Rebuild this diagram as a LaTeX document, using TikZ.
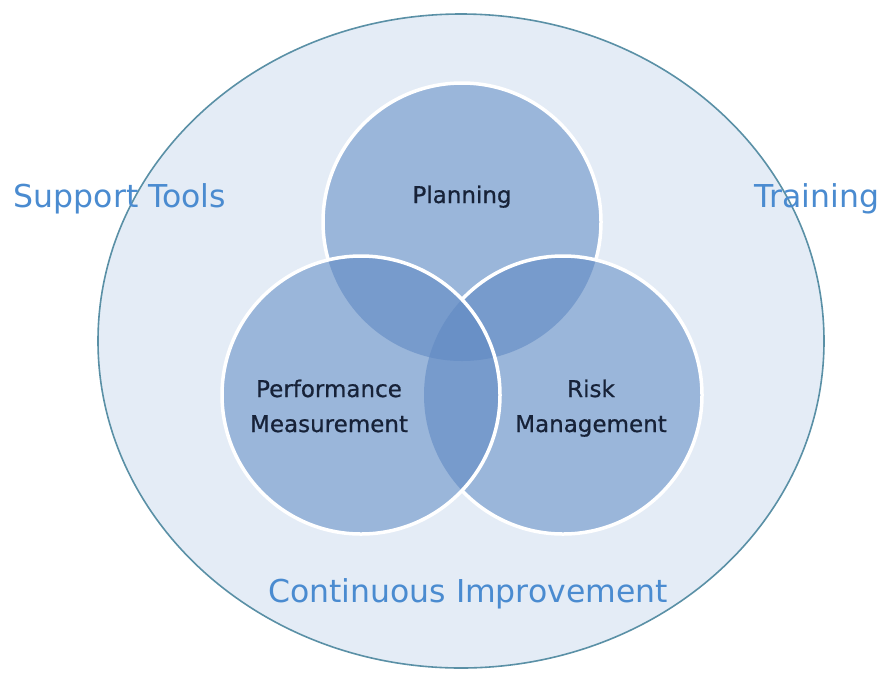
\documentclass[tikz,border=0pt]{standalone}
\usepackage{fontspec}
\setmainfont{DejaVu Sans}
\newfontfamily\labelfont[FakeBold=0.7]{DejaVu Sans}
\usetikzlibrary{positioning}

\definecolor{fieldfill}{HTML}{E4ECF6}
\definecolor{fieldline}{HTML}{5A90A6}
\definecolor{basefill}{HTML}{9AB6DA}
\definecolor{pairfill}{HTML}{779BCC}
\definecolor{midfill}{HTML}{6990C6}
\definecolor{navytext}{HTML}{172238}
\definecolor{bluetext}{HTML}{4A8BD0}

\tikzset{
  field/.style={fill=fieldfill, draw=fieldline, line width=1.6pt},
  rim/.style={draw=white, line width=3.5pt},
  inlabel/.style={text=navytext, font=\labelfont\fontsize{23}{27}\selectfont, anchor=base, inner sep=0pt},
  outlabel/.style={text=bluetext, font=\fontsize{31.5}{36}\selectfont, anchor=base, inner sep=0pt},
}

\begin{document}
\begin{tikzpicture}[line cap=round,line join=round, x=1pt,y=-1pt]
\useasboundingbox (0,0) rectangle (882,673);
\coordinate (plan) at (462,222);
\coordinate (perf) at (361,395);
\coordinate (risk) at (563,395);
\def\rad{139pt}
% outer field
\draw[field] (461,341) ellipse (363pt and 327pt);
% three circles
\foreach \c in {plan,perf,risk}
  \fill[basefill] (\c) circle (\rad);
\foreach \a/\b in {plan/perf,plan/risk,perf/risk}{
  \begin{scope}
    \clip (\a) circle (\rad);
    \fill[pairfill] (\b) circle (\rad);
  \end{scope}
}
\begin{scope}
  \clip (plan) circle (\rad);
  \clip (perf) circle (\rad);
  \fill[midfill] (risk) circle (\rad);
\end{scope}
% white rims
\begin{scope}[even odd rule]
  \clip (0,0) rectangle (882,673) (perf) circle (\rad);
  \begin{scope}
    \clip (0,0) rectangle (882,673) (risk) circle (\rad);
    \draw[rim] (plan) circle (\rad);
  \end{scope}
  \draw[rim] (risk) circle (\rad);
\end{scope}
\draw[rim] (perf) circle (\rad);
% labels
\node[inlabel] (planning) at (462,203) {Planning};
\node[inlabel] (perfA) at (329,397) {Performance};
\node[inlabel] (perfB) at ([yshift=-35pt]perfA.base) {Measurement};
\node[inlabel] (riskA) at (591,397) {Risk};
\node[inlabel] (riskB) at ([yshift=-35pt]riskA.base) {Management};
\node[outlabel] (support) at (120,207) {Support Tools};
\node[outlabel] (training) at (817,207) {Training};
\node[outlabel] (improve) at (468,602) {Continuous Improvement};
\end{tikzpicture}
\end{document}
